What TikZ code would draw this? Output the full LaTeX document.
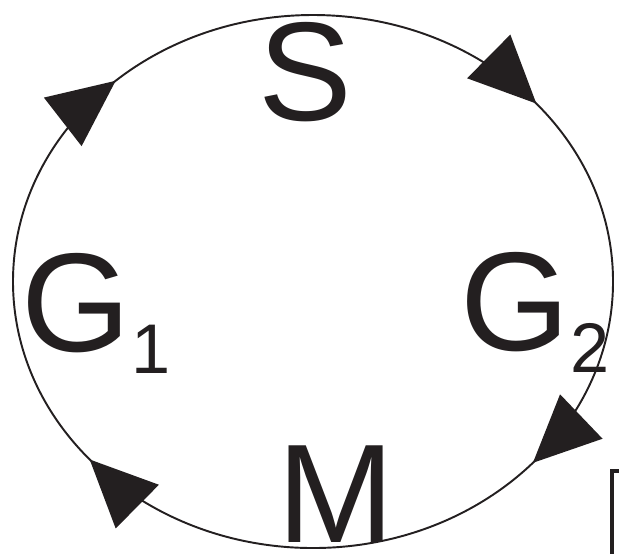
\documentclass[tikz,border=0pt]{standalone}
\usepackage{fontspec}
\setmainfont{Liberation Sans}
\usetikzlibrary{arrows.meta,decorations.markings}
\definecolor{CycInk}{HTML}{231F20}
\newcommand\phasesub[1]{\raisebox{-0.22cm}{\fontsize{20}{24}\selectfont #1}}

\begin{document}
\begin{tikzpicture}[
            >={Triangle[length=6.7mm,width=6.1mm]},
            phase/.style={inner sep=0pt,text=CycInk,font=\fontsize{40}{48}\selectfont},
            cyclearc/.style={draw=CycInk,line width=0.55pt,postaction=decorate,
              decoration={markings,
                mark=at position 0.1144 with {\arrow[CycInk]{>}},
                mark=at position 0.3883 with {\arrow[CycInk]{>}},
                mark=at position 0.6311 with {\arrow[CycInk]{>}},
                mark=at position 0.8883 with {\arrow[CycInk]{>}}}}
          ]
          \useasboundingbox (0,0) rectangle (6.19,5.53);
          \coordinate (ctr) at (3.13,2.715);
          \node[phase,anchor=base] (S) at (3.05,4.33) {S};
          \node[phase,anchor=base west] (G1) at (0.21,2.02) {G\phasesub{1}};
          \node[phase,anchor=base west] (G2) at (4.60,2.03) {G\phasesub{2}};
          \node[phase,anchor=base] (M) at (3.36,0.11) {M};
          % cycle runs clockwise: G1 -> S -> G2 -> M
          \draw[cyclearc] ([xshift=3cm]ctr) arc[start angle=0,end angle=-360,x radius=3,y radius=2.665];
          \draw[CycInk,line width=1.1pt] (6.12,-0.1) |- (6.3,0.82);
        \end{tikzpicture}
\end{document}
